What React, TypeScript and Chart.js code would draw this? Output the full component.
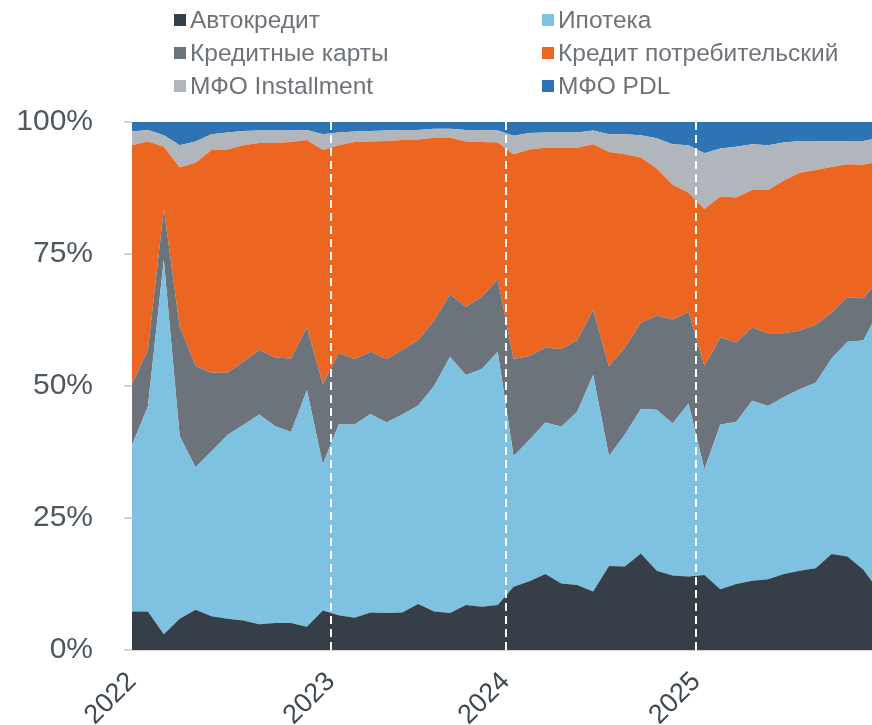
import React, { useEffect, useRef } from 'react';
import { Chart, registerables } from 'chart.js';

Chart.register(...registerables);

// Monthly periods, Jan 2022 .. Dec 2025
const periods = [
  '2022-01','2022-02','2022-03','2022-04','2022-05','2022-06','2022-07','2022-08','2022-09','2022-10','2022-11','2022-12',
  '2023-01','2023-02','2023-03','2023-04','2023-05','2023-06','2023-07','2023-08','2023-09','2023-10','2023-11','2023-12',
  '2024-01','2024-02','2024-03','2024-04','2024-05','2024-06','2024-07','2024-08','2024-09','2024-10','2024-11','2024-12',
  '2025-01','2025-02','2025-03','2025-04','2025-05','2025-06','2025-07','2025-08','2025-09','2025-10','2025-11','2025-12',
];

const seriesLabels = ['Автокредит', 'Ипотека', 'Кредитные карты', 'Кредит потребительский', 'МФО Installment', 'МФО PDL'];

// Shares, %
const avtokredit = [7.3,7.3,3.0,5.9,7.6,6.4,5.9,5.6,4.9,5.1,5.1,4.4,7.5,6.6,6.1,7.1,7.0,7.1,8.7,7.3,7.0,8.5,8.2,8.5,12.0,13.0,14.4,12.6,12.3,11.1,15.9,15.8,18.3,15.0,14.1,13.9,14.2,11.5,12.5,13.1,13.4,14.4,15.0,15.5,18.2,17.7,15.2,11.1];
const ipoteka = [31.5,38.8,70.9,34.6,27.0,31.2,34.8,37.0,39.7,37.3,36.2,44.8,27.7,36.1,36.6,37.6,36.1,37.5,37.6,42.7,48.5,43.6,45.0,48.0,24.7,26.8,28.7,29.7,32.8,41.0,20.8,25.0,27.3,30.5,28.8,32.8,20.0,31.2,30.7,34.1,32.8,33.5,34.4,35.1,37.0,40.7,43.4,53.4];
const kreditnyeKarty = [11.6,10.7,9.6,20.7,19.2,14.9,11.8,12.0,12.2,13.0,13.9,11.9,15.2,13.5,12.4,11.8,12.0,12.2,12.4,12.4,11.9,12.9,13.7,13.7,18.4,15.9,14.2,14.7,13.6,12.3,17.0,16.5,16.4,17.8,19.7,17.3,19.6,16.5,15.1,13.9,13.8,12.1,11.1,11.0,8.7,8.4,8.0,5.6];
const potrebitelskiy = [45.2,39.5,11.8,30.2,38.5,42.2,42.3,41.0,39.2,40.6,41.0,35.5,44.3,39.4,41.1,39.8,41.3,39.8,38.0,34.6,29.6,31.3,29.3,25.9,38.8,39.1,37.8,38.1,36.4,31.4,40.6,36.6,31.3,27.9,25.5,22.6,29.7,26.7,27.4,26.0,27.1,28.9,29.9,29.3,27.6,25.2,25.3,22.5];
const mfoInstallment = [2.6,2.2,2.2,4.2,4.0,3.0,3.2,2.7,2.4,2.4,2.2,1.9,3.0,2.4,2.0,2.0,2.0,1.9,1.8,1.7,1.7,2.2,2.3,2.3,3.5,3.1,2.9,2.9,2.9,2.6,3.4,3.8,4.2,5.7,7.7,9.0,10.6,9.1,9.6,8.7,8.5,7.2,6.0,5.5,4.8,4.4,4.5,4.4];
const mfoPdl = [1.8,1.5,2.5,4.4,3.7,2.3,2.0,1.7,1.6,1.6,1.6,1.5,2.3,2.0,1.8,1.7,1.6,1.5,1.5,1.3,1.3,1.5,1.5,1.6,2.6,2.1,2.0,2.0,2.0,1.6,2.3,2.3,2.5,3.1,4.2,4.4,5.9,5.0,4.7,4.2,4.4,3.9,3.6,3.6,3.7,3.6,3.6,3.0];

const seriesValues = [avtokredit, ipoteka, kreditnyeKarty, potrebitelskiy, mfoInstallment, mfoPdl];
const seriesColors = ['#363e48', '#7fc1e1', '#6c737b', '#ec6521', '#b0b6bc', '#2e74b5'];

// Year tick labels and their positions on the period axis
const yearLabels = ['2022', '2023', '2024', '2025'];
const yearTickPos = [0, 12.5, 23.5, 35.5];

const yTicks = [0, 25, 50, 75, 100];

const FONT = '"Liberation Sans", Arial, sans-serif';

const dashedYearLines = {
  id: 'dashedYearLines',
  afterDatasetsDraw(chart: any) {
    const { ctx, chartArea, scales } = chart;
    const xs = scales.x;
    ctx.save();
    ctx.strokeStyle = '#ffffff';
    ctx.lineWidth = 2;
    ctx.setLineDash([8, 5]);
    yearTickPos.slice(1).forEach((p) => {
      const x = Math.round(xs.getPixelForValue(p));
      ctx.beginPath();
      ctx.moveTo(x, chartArea.top);
      ctx.lineTo(x, chartArea.bottom);
      ctx.stroke();
    });
    ctx.restore();
  },
};

export default function App() {
  const canvasRef = useRef<HTMLCanvasElement | null>(null);

  useEffect(() => {
    document.body.style.margin = '0';
    const canvas = canvasRef.current;
    if (!canvas) return;
    const datasets = seriesLabels.map((label, si) => ({
      label,
      data: seriesValues[si].map((v, i) => ({ x: i, y: v })),
      backgroundColor: seriesColors[si],
      borderColor: seriesColors[si],
      borderWidth: 0,
      pointRadius: 0,
      tension: 0,
      fill: si === 0 ? 'origin' : '-1',
    }));
    const chart = new Chart(canvas, {
      type: 'line',
      data: { labels: periods, datasets },
      options: {
        responsive: false,
        animation: false,
        devicePixelRatio: 1,
        layout: { padding: { top: 122, left: 0, right: 0, bottom: 0 } },
        plugins: {
          legend: { display: false },
          tooltip: { enabled: false },
        },
        scales: {
          x: {
            type: 'linear',
            min: 0,
            max: 46.54,
            afterFit: (s: any) => { s.height = 75; },
            afterBuildTicks: (s: any) => { s.ticks = yearTickPos.map((v) => ({ value: v })); },
            grid: { display: false, drawOnChartArea: false, drawTicks: false },
            border: { display: true, color: '#d6d6d6', width: 2 },
            ticks: {
              autoSkip: false,
              minRotation: 45,
              maxRotation: 45,
              padding: 16,
              color: '#3e4752',
              font: { family: FONT, size: 27 },
              callback: (_v: any, i: number) => yearLabels[i],
            },
          },
          y: {
            stacked: true,
            min: 0,
            max: 100,
            afterFit: (s: any) => { s.width = 132; },
            afterBuildTicks: (s: any) => { s.ticks = yTicks.map((v) => ({ value: v })); },
            grid: { drawOnChartArea: false, drawTicks: true, tickLength: 8, color: '#d6d6d6', lineWidth: 2 },
            border: { display: false },
            ticks: {
              padding: 31,
              color: '#4d5661',
              font: { family: FONT, size: 30 },
              callback: (v: any) => v + '%',
            },
          },
        },
      },
      plugins: [dashedYearLines],
    } as any);
    return () => chart.destroy();
  }, []);

  const legendCols = [174, 542];
  const legendRowCenters = [20, 53, 86];

  return (
    <div style={{ position: 'fixed', left: 0, top: 0, width: 872, height: 725, background: '#ffffff' }}>
      <canvas ref={canvasRef} width={872} height={725} style={{ position: 'absolute', left: 0, top: 0 }} />
      {seriesLabels.map((label, i) => {
        const col = i % 2;
        const row = Math.floor(i / 2);
        return (
          <div
            key={label}
            style={{
              position: 'absolute',
              left: legendCols[col],
              top: legendRowCenters[row] - 15,
              height: 30,
              display: 'flex',
              alignItems: 'center',
              fontFamily: FONT,
              fontSize: 24.5,
              color: '#6e7379',
              whiteSpace: 'nowrap',
            }}
          >
            <span style={{ display: 'inline-block', width: 12, height: 12, background: seriesColors[i], marginRight: 4 }} />
            <span>{label}</span>
          </div>
        );
      })}
    </div>
  );
}
